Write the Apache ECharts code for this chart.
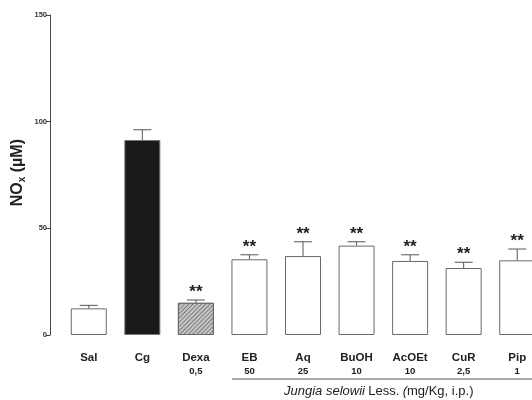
<!DOCTYPE html>
<html><head><meta charset="utf-8">
<script src="https://cdn.jsdelivr.net/npm/echarts@6/dist/echarts.min.js"></script>
<style>html,body{margin:0;padding:0;background:#fff}#c{width:532px;height:400px}</style>
</head><body><div id="c"></div>
<script>
var categories = ['Sal','Cg','Dexa','EB','Aq','BuOH','AcOEt','CuR','Pip'];
var doses = ['','','0,5','50','25','10','10','2,5','1'];
var means = [12.5, 91.4, 15.1, 35.5, 37.0, 41.9, 34.7, 31.4, 35.0];
var errors = [1.4, 4.8, 1.3, 2.1, 6.7, 1.8, 2.9, 2.7, 5.3];
var signif = ['', '', '**', '**', '**', '**', '**', '**', '**'];
var yTicks = [0, 50, 100, 150];

var chart = echarts.init(document.getElementById('c'), null, {renderer:'canvas'});
var font = 'Liberation Sans, Arial, sans-serif';

var barData = means.map(function(v, i){
  var st = {color:'#ffffff', borderColor:'#6a6a6a', borderWidth:1};
  if (i === 1) st = {color:'#1a1a1a', borderColor:'#777', borderWidth:1};
  if (i === 2) st = {color:'#c8c8c8', borderColor:'#6a6a6a', borderWidth:1,
    decal:{symbol:'rect', color:'#7a7a7a', dashArrayX:[1,0], dashArrayY:[1,2], rotation:-Math.PI/4, symbolSize:1}};
  return {value:v, itemStyle:st};
});

var errData = means.map(function(v, i){ return [i, v, v + errors[i], signif[i]]; });

chart.setOption({
  animation:false,
  grid:{left:62, width:482, top:15, height:320, containLabel:false, outerBoundsMode:'none'},
  xAxis:{
    type:'category', data:categories,
    axisLine:{show:false}, axisTick:{show:false},
    axisLabel:{
      margin:16, interval:0,
      formatter:function(v, i){ return '{a|' + v + '}\n{b|' + (doses[i] || ' ') + '}'; },
      rich:{
        a:{fontFamily:font, fontWeight:'bold', fontSize:11.5, color:'#222', lineHeight:13},
        b:{fontFamily:font, fontWeight:'bold', fontSize:9.5, color:'#222', lineHeight:14}
      }
    }
  },
  yAxis:{
    type:'value', min:0, max:150, interval:50, offset:12,
    axisLine:{show:true, lineStyle:{color:'#444', width:1}},
    axisTick:{show:true, length:4, lineStyle:{color:'#444'}},
    splitLine:{show:false},
    axisLabel:{fontFamily:font, fontWeight:'bold', fontSize:7.5, color:'#333', margin:3,
      formatter:function(v){ return yTicks.indexOf(v) >= 0 ? String(v) : ''; }}
  },
  series:[
    {type:'bar', data:barData, barWidth:36, z:2},
    {type:'custom', data:errData, z:3, clip:false,
     renderItem:function(params, api){
       var x = api.value(0);
       var lo = api.coord([x, api.value(1)]);
       var hi = api.coord([x, api.value(2)]);
       var cap = 9;
       var children = [
         {type:'line', shape:{x1:lo[0], y1:lo[1], x2:hi[0], y2:hi[1]}, style:{stroke:'#555', lineWidth:1}},
         {type:'line', shape:{x1:hi[0]-cap, y1:hi[1], x2:hi[0]+cap, y2:hi[1]}, style:{stroke:'#555', lineWidth:1}}
       ];
       var s = api.value(3);
       if (s) children.push({type:'text', style:{text:s, x:hi[0], y:hi[1]+1, textAlign:'center', textVerticalAlign:'bottom',
         font:'bold 17px ' + font, fill:'#222'}});
       return {type:'group', children:children};
     }}
  ],
  graphic:[
    {type:'text', left:10, top:139, rotation:Math.PI/2,
     style:{text:'{a|NO}{s|x}{a| (µM)}', rich:{
       a:{font:'bold 16px ' + font, fill:'#222'},
       s:{font:'bold 10px ' + font, fill:'#222', padding:[8,0,0,0]}
     }}},
    {type:'line', shape:{x1:232, y1:379, x2:532, y2:379}, style:{stroke:'#555', lineWidth:1}},
    {type:'text', left:284, top:385,
     style:{text:'{i|Jungia selowii} {n|Less.} {i|(}{n|mg/Kg, i.p.)}', rich:{
       i:{font:'italic 13px ' + font, fill:'#222'},
       n:{font:'13px ' + font, fill:'#222'}
     }}}
  ]
});
</script></body></html>
